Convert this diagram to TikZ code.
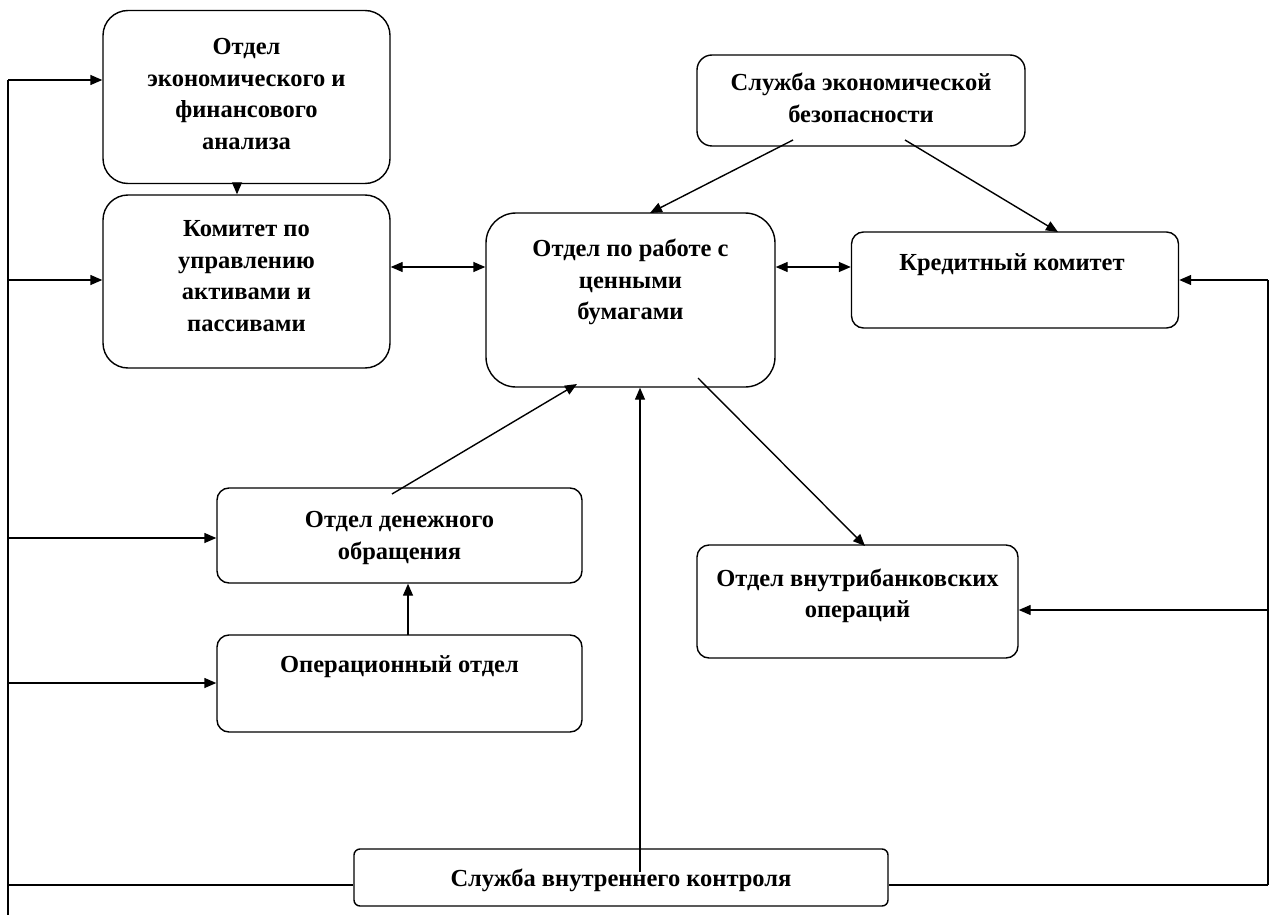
\documentclass[tikz,border=0pt]{standalone}
\usepackage{fontspec}
\setmainfont{Liberation Serif}
\usetikzlibrary{arrows.meta,calc}
\begin{document}
\begin{tikzpicture}[x=1pt,y=-1pt,
  box/.style={draw=black,line width=1.4pt,rectangle,fill=none,inner sep=0pt},
  txt/.style={font=\fontsize{24.5}{31.5}\selectfont\bfseries,align=center,inner sep=0pt},
  con/.style={line width=1.4pt,draw=black},
  arr/.style={con,-{Triangle[length=12pt,width=10pt]}},
  darr/.style={con,{Triangle[length=12pt,width=10pt]}-{Triangle[length=12pt,width=10pt]}}]
\useasboundingbox (0,0) rectangle (1271,920);
\fill[white] (0,0) rectangle (1271,920);
% boxes
\node[box,rounded corners=25pt,minimum width=287pt,minimum height=173pt] (A) at (246.5,97) {};
\node[box,rounded corners=25pt,minimum width=287pt,minimum height=173pt] (B) at (246.5,281.5) {};
\node[box,rounded corners=15pt,minimum width=328pt,minimum height=91pt] (C) at (861,100.5) {};
\node[box,rounded corners=30pt,minimum width=289pt,minimum height=174pt] (D) at (630.5,300) {};
\node[box,rounded corners=12pt,minimum width=327pt,minimum height=96pt] (E) at (1015,280) {};
\node[box,rounded corners=12pt,minimum width=365pt,minimum height=95pt] (F) at (399.5,535.5) {};
\node[box,rounded corners=12pt,minimum width=365pt,minimum height=97pt] (G) at (399.5,683.5) {};
\node[box,rounded corners=12pt,minimum width=321pt,minimum height=113pt] (H) at (857.5,601.5) {};
\node[box,rounded corners=6pt,minimum width=534pt,minimum height=57pt] (I) at (621,877.5) {};
% texts
\node[txt] (At) at (246.5,94) {Отдел\\экономического и\\финансового\\анализа};
\node[txt] (Bt) at (246.5,276) {Комитет по\\управлению\\активами и\\пассивами};
\node[txt] (Ct) at (861,98) {Служба экономической\\безопасности};
\node[txt] (Dt) at (630.5,282) {Отдел по работе с\\ценными\\бумагами};
\node[txt] (Et) at (1012,265) {Кредитный комитет};
\node[txt] (Ft) at (399.5,538) {Отдел денежного\\обращения};
\node[txt] (Gt) at (399.5,667) {Операционный отдел};
\node[txt] (Ht) at (857.5,596) {Отдел внутрибанковских\\операций};
\node[txt] (It) at (621,880) {Служба внутреннего контроля};
% coordinates
\coordinate (Ltop) at (8,80);
\coordinate (Lb) at (8,280);
\coordinate (Lf) at (8,538);
\coordinate (Lg) at (8,683);
\coordinate (Lh) at (8,885);
\coordinate (Lend) at (8,915);
\coordinate (Rtop) at (1268,280);
\coordinate (Rh) at (1268,610);
\coordinate (Rend) at (1268,885);
\coordinate (c1) at (793,140);
\coordinate (c2) at (905,140);
\coordinate (f1) at (392,494);
\coordinate (d1) at (577,384);
\coordinate (d2) at (698,378);
\coordinate (h1) at (865,546);
\coordinate (i1) at (640,872);
\coordinate (ab) at (237,183);
\coordinate (gf) at (408,635);
\coordinate (mid) at (0,267);
% left bus
\draw[con] (Ltop) -- (Lend);
\draw[arr] (Ltop) -- (Ltop -| A.west);
\draw[arr] (Lb) -- (Lb -| B.west);
\draw[arr] (Lf) -- (Lf -| F.west);
\draw[arr] (Lg) -- (Lg -| G.west);
\draw[con] (Lh) -- (Lh -| I.west);
% right bus
\draw[con] (Rtop) -- (Rend);
\draw[arr] (Rtop) -- (Rtop -| E.east);
\draw[arr] (Rh) -- (Rh -| H.east);
\draw[con] (Rend) -- (Rend -| I.east);
% internal arrows
\draw[arr] (ab) -- (ab |- B.north);
\draw[darr] (mid -| B.east) -- (mid -| D.west);
\draw[darr] (mid -| D.east) -- (mid -| E.west);
\draw[arr] (c1) -- (650,213);
\draw[arr] (c2) -- (1058,232);
\draw[arr] (f1) -- (d1);
\draw[arr] (i1) -- (i1 |- D.south);
\draw[arr] (d2) -- (h1);
\draw[arr] (gf) -- (gf |- F.south);
\end{tikzpicture}
\end{document}
